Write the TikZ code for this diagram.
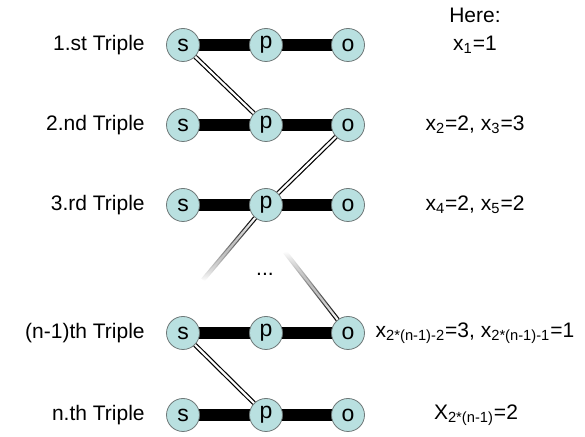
\documentclass[tikz,border=0pt]{standalone}
\usepackage{fontspec}
\setmainfont{Liberation Sans}
\usetikzlibrary{backgrounds, fadings}
\definecolor{termcol}{HTML}{B9E0E0}
\definecolor{rimcol}{HTML}{6E7878}
\tikzfading[name=fadelow, top color=transparent!0, bottom color=transparent!100]
\tikzfading[name=fadehigh, top color=transparent!100, bottom color=transparent!0]

\begin{document}
\begin{tikzpicture}[x=0.5pt, y=-0.5pt,
  termnode/.style={circle, draw=rimcol, fill=termcol, minimum size=16.5pt, inner sep=0pt, font=\fontsize{11.5}{13}\selectfont},
  rowlabel/.style={anchor=east, inner xsep=0pt, font=\fontsize{10.5}{13}\selectfont},
  valuelabel/.style={align=center, font=\fontsize{10.5}{14}\selectfont},
  bond/.style={line width=6pt},
  link/.style={double, line width=0.6pt, double distance=1.1pt}
]
\useasboundingbox (0,0) rectangle (585,437);

% the triples
\foreach \r/\y/\txt in {1/45/1.st Triple, 2/125/2.nd Triple, 3/205/3.rd Triple, 4/333/(n-1)th Triple, 5/415/n.th Triple} {
  \node[rowlabel] (row\r) at (145,\y) {\txt};
  \node[termnode] (s\r) at (183,\y) {s};
  \node[termnode] (p\r) at (266,\y) {p};
  \node[termnode] (o\r) at (348,\y) {o};
  \begin{scope}[on background layer]
    \draw[bond] (s\r.center) -- (p\r.center) -- (o\r.center);
  \end{scope}
}

% values
\node[valuelabel] (val1) at (475,31) {Here:\\x\textsubscript{1}=1};
\node[valuelabel] (val2) at (475,125) {x\textsubscript{2}=2, x\textsubscript{3}=3};
\node[valuelabel] (val3) at (475,205) {x\textsubscript{4}=2, x\textsubscript{5}=2};
\node[valuelabel] (val4) at (475,333) {x\textsubscript{2*(n-1)-2}=3, x\textsubscript{2*(n-1)-1}=1};
\node[valuelabel] (val5) at (476,415) {X\textsubscript{2*(n-1)}=2};
\node[valuelabel] (dots) at (265,274) {...};

% links between the triples
\coordinate (tailA) at (203,280);
\coordinate (tailB) at (285,252);
\draw[link] (s1) -- (p2);
\draw[link] (o2) -- (p3);
\draw[link, path fading=fadelow] (p3) -- (tailA);
\draw[link, path fading=fadehigh] (tailB) -- (o4);
\draw[link] (s4) -- (p5);
\end{tikzpicture}
\end{document}
